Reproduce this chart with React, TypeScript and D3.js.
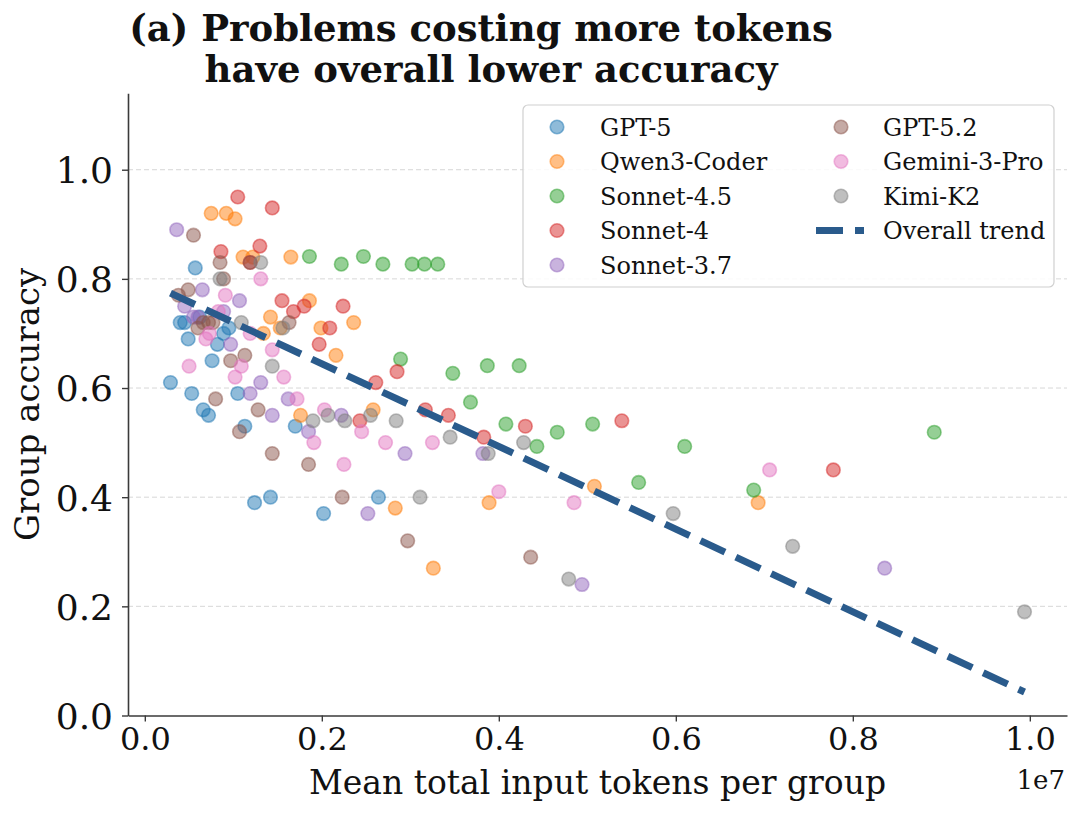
import React, { useRef, useEffect } from 'react';
import * as d3 from 'd3';

// [mean total input tokens (millions), group accuracy]
type Pt = [number, number];

const gpt5: Pt[] = [
  [0.29, 0.61], [0.57, 0.82], [0.40, 0.72], [0.45, 0.72], [0.49, 0.69], [0.53, 0.59],
  [0.62, 0.73], [0.66, 0.56], [0.72, 0.55], [0.76, 0.65], [0.82, 0.68], [0.89, 0.70],
  [0.95, 0.71], [1.05, 0.59], [1.13, 0.53], [1.24, 0.39], [1.42, 0.40], [1.70, 0.53],
  [2.02, 0.37], [2.64, 0.40]
];
const qwen3Coder: Pt[] = [
  [0.75, 0.92], [0.92, 0.92], [1.02, 0.91], [1.11, 0.84], [1.22, 0.84], [1.65, 0.84],
  [1.86, 0.76], [1.42, 0.73], [1.34, 0.70], [1.53, 0.71], [1.99, 0.71], [2.36, 0.72],
  [2.16, 0.66], [2.58, 0.56], [1.76, 0.55], [2.83, 0.38], [3.26, 0.27], [3.89, 0.39],
  [5.08, 0.42], [6.93, 0.39]
];
const sonnet45: Pt[] = [
  [1.86, 0.841], [2.22, 0.827], [2.47, 0.841], [2.69, 0.827], [3.02, 0.827], [3.16, 0.827],
  [3.31, 0.827], [2.89, 0.653], [3.48, 0.627], [3.87, 0.641], [4.23, 0.641], [3.68, 0.574],
  [4.08, 0.534], [4.43, 0.493], [4.66, 0.519], [5.06, 0.534], [6.10, 0.493], [5.58, 0.427],
  [6.88, 0.413], [8.92, 0.519]
];
const sonnet4: Pt[] = [
  [1.05, 0.95], [1.44, 0.93], [0.86, 0.85], [1.30, 0.86], [1.55, 0.76], [1.68, 0.74],
  [1.80, 0.75], [2.24, 0.75], [2.09, 0.71], [1.97, 0.68], [2.85, 0.63], [2.61, 0.61],
  [3.17, 0.56], [3.43, 0.55], [2.43, 0.54], [4.30, 0.53], [3.83, 0.51], [5.39, 0.54],
  [7.78, 0.45], [1.19, 0.83]
];
const sonnet37: Pt[] = [
  [0.36, 0.89], [0.65, 0.78], [1.07, 0.76], [0.45, 0.75], [0.55, 0.73], [0.60, 0.73],
  [0.97, 0.68], [1.31, 0.61], [1.19, 0.59], [1.44, 0.55], [1.62, 0.58], [1.85, 0.52],
  [2.22, 0.55], [2.94, 0.48], [2.52, 0.37], [3.82, 0.48], [4.94, 0.24], [8.36, 0.27],
  [0.89, 0.74]
];
const gpt52: Pt[] = [
  [0.55, 0.88], [0.85, 0.83], [1.19, 0.83], [0.49, 0.78], [0.89, 0.80], [0.66, 0.72],
  [0.72, 0.72], [0.77, 0.72], [0.60, 0.71], [1.63, 0.72], [1.13, 0.66], [0.97, 0.65],
  [0.80, 0.58], [1.28, 0.56], [1.07, 0.52], [1.44, 0.48], [1.85, 0.46], [2.23, 0.40],
  [2.97, 0.32], [4.36, 0.29], [0.38, 0.77]
];
const gemini3Pro: Pt[] = [
  [1.31, 0.80], [0.91, 0.77], [0.83, 0.74], [0.69, 0.69], [0.73, 0.70], [0.50, 0.64],
  [1.09, 0.64], [1.02, 0.62], [1.19, 0.70], [1.44, 0.67], [1.57, 0.62], [1.72, 0.58],
  [2.03, 0.56], [1.91, 0.50], [2.45, 0.52], [2.72, 0.50], [3.25, 0.50], [2.25, 0.46],
  [4.00, 0.41], [4.85, 0.39], [7.06, 0.45]
];
const kimiK2: Pt[] = [
  [0.85, 0.80], [1.31, 0.83], [1.09, 0.72], [1.44, 0.64], [1.56, 0.71], [1.90, 0.54],
  [2.07, 0.55], [2.26, 0.54], [2.55, 0.55], [2.84, 0.54], [3.45, 0.51], [3.88, 0.48],
  [4.28, 0.50], [3.11, 0.40], [4.79, 0.25], [5.97, 0.37], [7.32, 0.31], [9.94, 0.19]
];

const models = ['GPT-5', 'Qwen3-Coder', 'Sonnet-4.5', 'Sonnet-4', 'Sonnet-3.7', 'GPT-5.2', 'Gemini-3-Pro', 'Kimi-K2'];
const modelData = [gpt5, qwen3Coder, sonnet45, sonnet4, sonnet37, gpt52, gemini3Pro, kimiK2];
const modelColors = ['#1f77b4', '#ff7f0e', '#2ca02c', '#d62728', '#9467bd', '#8c564b', '#e377c2', '#7f7f7f'];

// overall linear trend, endpoints at min / max x
const trendX = [0.29, 9.94];
const trendY = [0.774, 0.043];

const xTicks = [0, 2, 4, 6, 8, 10];
const yTicks = [0, 0.2, 0.4, 0.6, 0.8, 1.0];

const W = 1080;
const H = 815;
const SERIF = '"DejaVu Serif", serif';

const App: React.FC = () => {
  const svgRef = useRef<SVGSVGElement>(null);

  useEffect(() => {
    document.body.style.margin = '0';
    if (!svgRef.current) return;
    const svg = d3.select(svgRef.current);
    svg.selectAll('*').remove();

    const left = 128, right = 1067, top = 93.3, bottom = 715.5;
    const x = d3.scaleLinear().domain([-0.19, 10.42]).range([left, right]);
    const y = d3.scaleLinear().domain([0, 1.14]).range([bottom, top]);

    // grid
    svg.append('g')
      .selectAll('line')
      .data(yTicks.filter(d => d > 0))
      .enter().append('line')
      .attr('x1', left).attr('x2', right)
      .attr('y1', d => y(d)).attr('y2', d => y(d))
      .attr('stroke', '#cfcfcf').attr('stroke-width', 1)
      .attr('stroke-dasharray', '5,3').attr('opacity', 0.8);

    // points
    modelData.forEach((pts, i) => {
      svg.append('g')
        .selectAll('circle')
        .data(pts)
        .enter().append('circle')
        .attr('cx', d => x(d[0]))
        .attr('cy', d => y(d[1]))
        .attr('r', 6.8)
        .attr('fill', modelColors[i]).attr('fill-opacity', 0.5)
        .attr('stroke', modelColors[i]).attr('stroke-opacity', 0.5)
        .attr('stroke-width', 1.6);
    });

    // trend
    const trendLine = d3.line<number>().x((d, i) => x(trendX[i])).y(d => y(d));
    svg.append('path')
      .attr('d', trendLine(trendY))
      .attr('fill', 'none')
      .attr('stroke', '#2a5b8c')
      .attr('stroke-width', 7)
      .attr('stroke-dasharray', '27,12');

    // axes
    const xAxis = svg.append('g')
      .attr('transform', `translate(0,${bottom})`)
      .call(d3.axisBottom(x).tickValues(xTicks).tickSize(6).tickSizeOuter(0)
        .tickFormat(d => (Number(d) / 10).toFixed(1)));
    const yAxis = svg.append('g')
      .attr('transform', `translate(${left},0)`)
      .call(d3.axisLeft(y).tickValues(yTicks).tickSize(6).tickSizeOuter(0)
        .tickFormat(d => Number(d).toFixed(1)));

    [xAxis, yAxis].forEach(ax => {
      ax.select('.domain').attr('stroke', '#3a3a3a').attr('stroke-width', 1.6);
      ax.selectAll('.tick line').attr('stroke', '#3a3a3a').attr('stroke-width', 1.4);
      ax.selectAll('.tick text').attr('fill', '#111').style('font-family', SERIF);
    });
    xAxis.selectAll('.tick text').style('font-size', '32px').attr('y', 10).attr('dy', '0.76em');
    yAxis.selectAll('.tick text').style('font-size', '36px').attr('x', -15).attr('dy', '0.36em');

    svg.append('text')
      .attr('x', (left + right) / 2).attr('y', 794)
      .attr('text-anchor', 'middle')
      .style('font-family', SERIF).style('font-size', '33px').attr('fill', '#111')
      .text('Mean total input tokens per group');
    svg.append('text')
      .attr('x', 1065).attr('y', 789)
      .attr('text-anchor', 'end')
      .style('font-family', SERIF).style('font-size', '26px').attr('fill', '#111')
      .text('1e7');
    svg.append('text')
      .attr('transform', `translate(39,${(top + bottom) / 2}) rotate(-90)`)
      .attr('text-anchor', 'middle')
      .style('font-family', SERIF).style('font-size', '34px').attr('fill', '#111')
      .text('Group accuracy');

    // title
    const title = svg.append('text')
      .attr('text-anchor', 'middle')
      .style('font-family', SERIF).style('font-size', '37px').style('font-weight', 'bold')
      .attr('fill', '#111');
    title.append('tspan').attr('x', 481).attr('y', 41).text('(a) Problems costing more tokens');
    title.append('tspan').attr('x', 491).attr('y', 82).text('have overall lower accuracy');

    // legend
    const lg = svg.append('g');
    lg.append('rect')
      .attr('x', 523).attr('y', 105).attr('width', 531).attr('height', 182)
      .attr('rx', 5).attr('fill', 'white').attr('fill-opacity', 0.85)
      .attr('stroke', '#d0d0d0').attr('stroke-width', 1.2);
    const rowY = (r: number) => 127 + r * 34.5;
    models.forEach((m, i) => {
      const col = i < 5 ? 0 : 1;
      const row = i < 5 ? i : i - 5;
      const mx = col === 0 ? 557 : 841;
      const tx = col === 0 ? 600 : 883;
      lg.append('circle')
        .attr('cx', mx).attr('cy', rowY(row)).attr('r', 6.8)
        .attr('fill', modelColors[i]).attr('fill-opacity', 0.5)
        .attr('stroke', modelColors[i]).attr('stroke-opacity', 0.5).attr('stroke-width', 1.6);
      lg.append('text')
        .attr('x', tx).attr('y', rowY(row)).attr('dy', '0.36em')
        .style('font-family', SERIF).style('font-size', '24px').attr('fill', '#111')
        .text(m);
    });
    lg.append('line')
      .attr('x1', 816).attr('x2', 864).attr('y1', rowY(3)).attr('y2', rowY(3))
      .attr('stroke', '#2a5b8c').attr('stroke-width', 7).attr('stroke-dasharray', '27,12');
    lg.append('text')
      .attr('x', 883).attr('y', rowY(3)).attr('dy', '0.36em')
      .style('font-family', SERIF).style('font-size', '24px').attr('fill', '#111')
      .text('Overall trend');
  }, []);

  return <svg ref={svgRef} width={W} height={H} style={{ display: 'block', background: 'white' }} />;
};

export default App;
